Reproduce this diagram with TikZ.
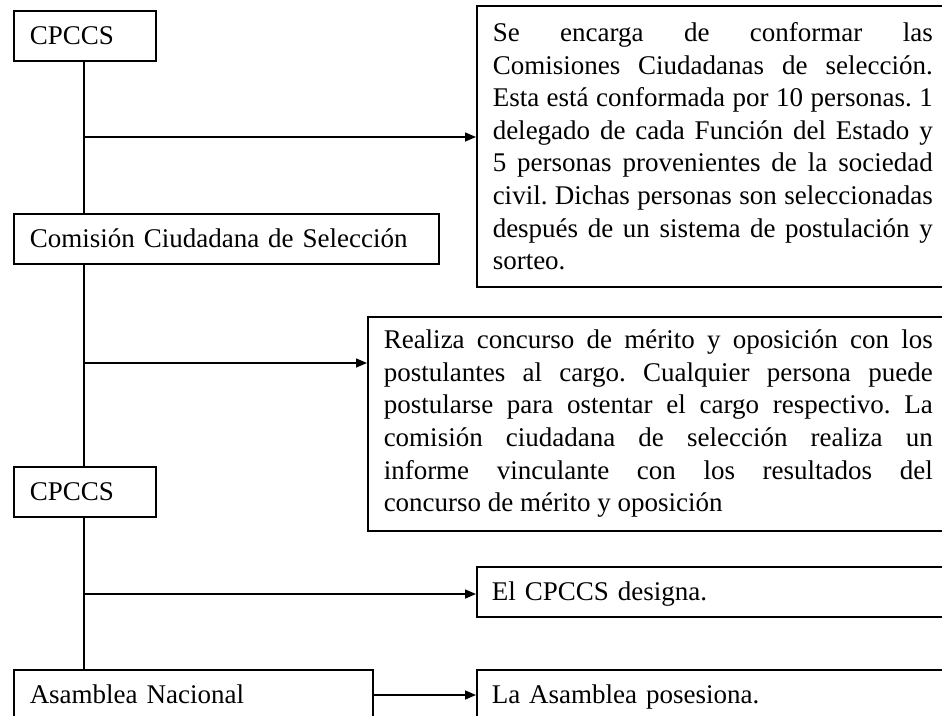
\documentclass[tikz,border=0pt]{standalone}
\usepackage{fontspec}
\setmainfont{Liberation Serif}
\usetikzlibrary{arrows.meta}
\newcommand{\jl}[2]{\makebox[#1][s]{#2}}
\begin{document}
\frenchspacing
\begin{tikzpicture}[x=1pt,y=-1pt,
  every node/.style={font=\fontsize{27}{32.6}\selectfont},
  box/.style={draw, line width=1.5pt, anchor=north west, inner ysep=0pt, inner xsep=16pt, align=left},
  sbox/.style={box, minimum height=50pt, text height=20pt, text depth=3pt},
  conn/.style={line width=1.5pt},
  arr/.style={conn, -{Triangle[length=11pt,width=9pt]}}]
\useasboundingbox (0,0) rectangle (942,715);
\clip (0,0) rectangle (942,715);
\fill[white] (0,0) rectangle (942,715);

% left column
\node[sbox, text width=110pt] (c1) at (13,10) {CPCCS};
\node[sbox, text width=393pt] (cc) at (13,213) {Comisión Ciudadana de Selección};
\node[sbox, text width=110pt] (c2) at (13,466) {CPCCS};
\node[sbox, text width=327pt] (an) at (13,669) {Asamblea Nacional};

% right column
\node[box, minimum height=281pt] (b1) at (476,5) {%
\jl{440pt}{Se encarga de conformar las}\\
\jl{440pt}{Comisiones Ciudadanas de selección.}\\
\jl{440pt}{Esta está conformada por 10 personas. 1}\\
\jl{440pt}{delegado de cada Función del Estado y}\\
\jl{440pt}{5 personas provenientes de la sociedad}\\
\jl{440pt}{civil. Dichas personas son seleccionadas}\\
\jl{440pt}{después de un sistema de postulación y}\\
sorteo.};
\node[box, minimum height=214pt] (b2) at (367,316) {%
\jl{549pt}{Realiza concurso de mérito y oposición con los}\\
\jl{549pt}{postulantes al cargo. Cualquier persona puede}\\
\jl{549pt}{postularse para ostentar el cargo respectivo. La}\\
\jl{549pt}{comisión ciudadana de selección realiza un}\\
\jl{549pt}{informe vinculante con los resultados del}\\
concurso de mérito y oposición};
\node[sbox, text width=442pt, inner xsep=15pt] (b3) at (476,566) {El CPCCS designa.};
\node[sbox, text width=442pt, inner xsep=15pt] (b4) at (476,669) {La Asamblea posesiona.};

% trunk
\draw[conn] (c1.south -| 84,0) -- (cc.north -| 84,0);
\draw[conn] (cc.south -| 84,0) -- (c2.north -| 84,0);
\draw[conn] (c2.south -| 84,0) -- (an.north -| 84,0);

% branches
\coordinate (j1) at (84,137);
\coordinate (j2) at (84,363);
\coordinate (j3) at (84,594);
\coordinate (j4) at (372,695);
\draw[arr] (j1) -- (j1 -| b1.west);
\draw[arr] (j2) -- (j2 -| b2.west);
\draw[arr] (j3) -- (j3 -| b3.west);
\draw[arr] (j4) -- (j4 -| b4.west);
\end{tikzpicture}
\end{document}
